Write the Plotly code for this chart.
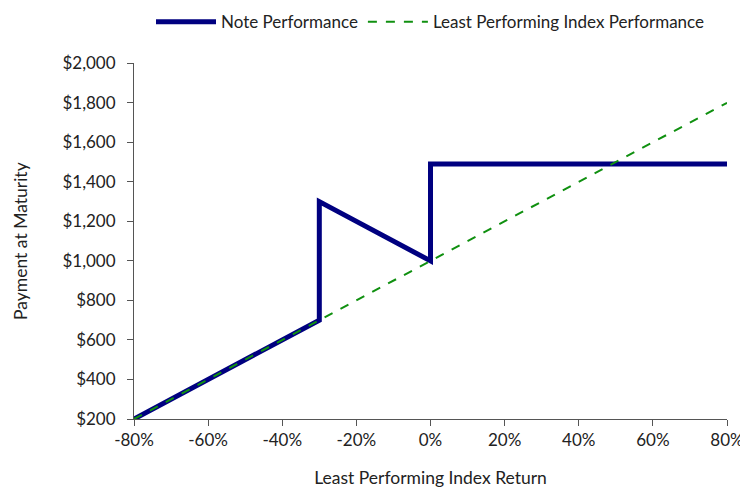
import plotly.graph_objects as go

# Data
note_x = [-80, -30, -30, 0, 0, 80]
note_y = [200, 700, 1300, 1000, 1490, 1490]
index_x = [-80, 80]
index_y = [200, 1800]
x_ticks = [-80, -60, -40, -20, 0, 20, 40, 60, 80]
x_tick_labels = ["-80%", "-60%", "-40%", "-20%", "0%", "20%", "40%", "60%", "80%"]
y_ticks = [200, 400, 600, 800, 1000, 1200, 1400, 1600, 1800, 2000]
y_tick_labels = ["$200", "$400", "$600", "$800", "$1,000", "$1,200", "$1,400", "$1,600", "$1,800", "$2,000"]

fig = go.Figure()
fig.add_trace(go.Scatter(x=note_x, y=note_y, mode="lines", name="Note Performance",
                         line=dict(color="#000080", width=5), cliponaxis=False))
fig.add_trace(go.Scatter(x=index_x, y=index_y, mode="lines", name="Least Performing Index Performance",
                         line=dict(color="#109010", width=2, dash="dash"), cliponaxis=False))

fig.update_layout(
    width=748, height=489,
    margin=dict(l=122, r=24, t=53, b=75),
    plot_bgcolor="white", paper_bgcolor="white",
    font=dict(family="Lato", size=17, color="#222222"),
    showlegend=True,
    legend=dict(orientation="h", x=0.5, xanchor="center", y=0.971, yref="container", yanchor="middle",
                font=dict(size=17), itemwidth=60, tracegroupgap=0),
    xaxis=dict(range=[-80, 80], tickvals=x_ticks, ticktext=x_tick_labels,
               showgrid=False, zeroline=False, showline=True, linecolor="#555555", linewidth=1,
               ticks="outside", ticklen=6, tickcolor="#555555",
               title=dict(text="Least Performing Index Return", standoff=22, font=dict(size=17.5))),
    yaxis=dict(range=[200, 2000], tickvals=y_ticks, ticktext=y_tick_labels,
               showgrid=False, zeroline=False, showline=True, linecolor="#555555", linewidth=1,
               ticks="outside", ticklen=6, tickcolor="#555555", ticklabelstandoff=8,
               title=dict(text="Payment at Maturity", standoff=30, font=dict(size=17.5))),
)

fig.write_html("out.html")
